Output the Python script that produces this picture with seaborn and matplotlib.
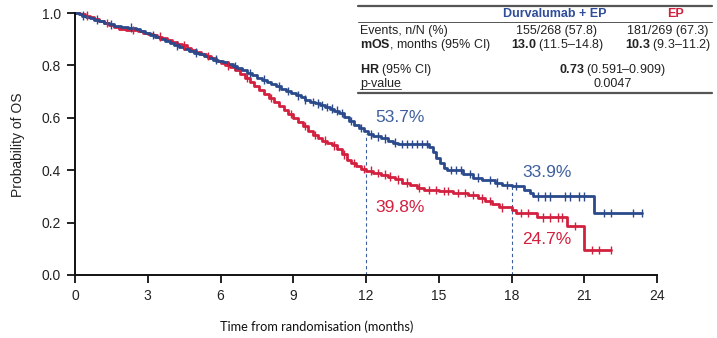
import numpy as np
import pandas as pd
import matplotlib
matplotlib.use("Agg")
import matplotlib.pyplot as plt
import seaborn as sns

# Kaplan-Meier step points (months, survival probability)
durva_t = [0, 0.15, 0.3, 0.45, 0.6, 0.8, 1.0, 1.2, 1.4, 1.6, 1.9, 2.2, 2.5, 2.7, 2.9, 3.1,
           3.3, 3.5, 3.7, 3.9, 4.1, 4.3, 4.5, 4.7, 4.9, 5.1, 5.3, 5.5, 5.7, 5.9, 6.1, 6.3,
           6.5, 6.7, 6.9, 7.1, 7.3, 7.5, 7.7, 7.9, 8.1, 8.3, 8.5, 8.7, 8.9, 9.1, 9.3, 9.5,
           9.7, 9.9, 10.1, 10.3, 10.5, 10.7, 10.9, 11.1, 11.3, 11.5, 11.7, 11.9, 12.1, 12.3,
           12.6, 12.9, 13.1, 13.3, 14.6, 14.75, 14.9, 15.05, 15.2, 15.35, 16.0, 16.4, 16.8,
           17.3, 17.6, 18.0, 18.5, 18.75, 18.9, 21.4, 23.4]
durva_s = [1.0, 0.996, 0.99, 0.985, 0.98, 0.975, 0.97, 0.963, 0.957, 0.952, 0.948, 0.944,
           0.938, 0.93, 0.923, 0.916, 0.908, 0.90, 0.893, 0.885, 0.877, 0.87, 0.863, 0.856,
           0.849, 0.843, 0.836, 0.829, 0.822, 0.817, 0.812, 0.806, 0.798, 0.79, 0.781, 0.771,
           0.762, 0.753, 0.746, 0.738, 0.73, 0.72, 0.71, 0.703, 0.695, 0.686, 0.678, 0.669,
           0.661, 0.655, 0.648, 0.641, 0.635, 0.627, 0.619, 0.604, 0.588, 0.574, 0.561, 0.548,
           0.537, 0.529, 0.522, 0.513, 0.505, 0.50, 0.488, 0.468, 0.447, 0.428, 0.41, 0.40,
           0.385, 0.372, 0.363, 0.352, 0.343, 0.339, 0.325, 0.312, 0.30, 0.237, 0.237]

ep_t = [0, 0.2, 0.4, 0.6, 0.8, 1.0, 1.2, 1.4, 1.6, 1.8, 2.1, 2.6, 2.8, 3.0, 3.2, 3.4, 3.6,
        3.8, 4.0, 4.2, 4.4, 4.6, 4.8, 5.0, 5.2, 5.4, 5.6, 5.8, 6.0, 6.2, 6.4, 6.6, 6.8, 7.0,
        7.2, 7.4, 7.6, 7.8, 8.0, 8.2, 8.4, 8.6, 8.8, 9.0, 9.2, 9.4, 9.6, 9.8, 10.0, 10.2,
        10.4, 10.6, 10.8, 11.0, 11.2, 11.4, 11.6, 11.8, 12.0, 12.3, 12.6, 12.9, 13.2, 13.5,
        13.8, 14.1, 14.4, 15.0, 15.6, 16.2, 16.6, 16.9, 17.2, 17.5, 18.0, 18.2, 19.05, 20.3,
        21.0, 22.1]
ep_s = [1.0, 0.995, 0.99, 0.985, 0.978, 0.97, 0.962, 0.955, 0.948, 0.94, 0.935, 0.93, 0.925,
        0.92, 0.915, 0.91, 0.903, 0.896, 0.889, 0.882, 0.876, 0.868, 0.86, 0.852, 0.844, 0.836,
        0.827, 0.818, 0.81, 0.80, 0.793, 0.782, 0.766, 0.752, 0.737, 0.72, 0.705, 0.69, 0.675,
        0.66, 0.645, 0.63, 0.615, 0.60, 0.585, 0.568, 0.55, 0.535, 0.523, 0.513, 0.505, 0.495,
        0.48, 0.46, 0.44, 0.427, 0.415, 0.405, 0.398, 0.39, 0.383, 0.375, 0.365, 0.353, 0.343,
        0.333, 0.325, 0.32, 0.313, 0.305, 0.293, 0.282, 0.27, 0.258, 0.247, 0.237, 0.22, 0.187,
        0.095, 0.095]

# Censoring times (months)
durva_cens = [0.35, 0.9, 1.5, 2.3, 3.2, 4.2, 5.0, 5.8, 6.6, 7.2, 7.8, 8.4, 8.8, 9.2, 9.5,
              9.8, 10.0, 10.2, 10.4, 10.6, 10.8, 11.0, 11.4, 11.8, 12.2, 12.5, 12.8, 13.2,
              13.5, 13.7, 13.9, 14.1, 14.3, 14.5, 15.5, 15.7, 15.9, 16.3, 16.6, 17.1, 17.4,
              17.8, 18.2, 19.1, 19.4, 19.6, 20.2, 20.4, 20.8, 21.0, 21.8, 22.1, 23.0, 23.4]
ep_cens = [0.5, 1.3, 2.4, 3.5, 4.5, 5.5, 6.3, 7.1, 8.1, 8.9, 9.5, 9.9, 10.3, 10.7, 11.1,
           11.5, 11.9, 12.2, 12.5, 12.8, 13.0, 13.3, 13.7, 14.2, 14.6, 14.9, 15.2, 15.4,
           15.8, 16.1, 16.4, 16.8, 17.1, 17.6, 18.4, 18.7, 19.3, 19.6, 19.9, 20.1, 20.6,
           21.3, 21.6, 22.1]

arms = ["Durvalumab + EP", "EP"]
palette = {"Durvalumab + EP": "#2a4a8c", "EP": "#d3203f"}

landmarks = [12, 18]
durva_pct = [53.7, 33.9]
ep_pct = [39.8, 24.7]

x_ticks = list(range(0, 25, 3))
y_ticks = [0.0, 0.2, 0.4, 0.6, 0.8, 1.0]


def step_value(times, surv, t):
    idx = np.searchsorted(times, t, side="right") - 1
    return surv[max(idx, 0)]


curves = pd.concat([
    pd.DataFrame({"time": ep_t, "surv": ep_s, "arm": arms[1]}),
    pd.DataFrame({"time": durva_t, "surv": durva_s, "arm": arms[0]}),
])
cens = pd.concat([
    pd.DataFrame({"time": ep_cens,
                  "surv": [step_value(ep_t, ep_s, t) for t in ep_cens],
                  "arm": arms[1]}),
    pd.DataFrame({"time": durva_cens,
                  "surv": [step_value(durva_t, durva_s, t) for t in durva_cens],
                  "arm": arms[0]}),
])

sns.set_theme(style="ticks")
plt.rcParams["font.family"] = ["Liberation Sans", "DejaVu Sans"]
plt.rcParams["mathtext.fontset"] = "custom"
plt.rcParams["mathtext.rm"] = "Liberation Sans"
plt.rcParams["mathtext.bf"] = "Liberation Sans:bold"

W, H = 717, 338
fig = plt.figure(figsize=(W / 100, H / 100), dpi=100)
ax = fig.add_axes([75 / W, (H - 275) / H, (657 - 75) / W, (275 - 13) / H])


def ftext(x, y, s, **kw):
    fig.text(x / W, 1 - y / H, s, **kw)


sns.lineplot(data=curves, x="time", y="surv", hue="arm", hue_order=[arms[1], arms[0]],
             palette=palette, drawstyle="steps-post", linewidth=2.0, legend=False,
             estimator=None, sort=False, ax=ax, clip_on=False)
sns.scatterplot(data=cens, x="time", y="surv", hue="arm", palette=palette, marker="|",
                s=38, linewidth=1.0, legend=False, ax=ax, clip_on=False, zorder=3)

# Landmark guides
for lm, dv in zip(landmarks, durva_pct):
    ax.plot([lm, lm], [0, dv / 100], linestyle=(0, (3, 2.5)), color="#3d5fa0",
            linewidth=0.8, zorder=1)

ax.text(12.4, 0.60, f"{durva_pct[0]}%", color="#3d5fa0", fontsize=12.5, va="center")
ax.text(12.4, 0.256, f"{ep_pct[0]}%", color="#d3203f", fontsize=12.5, va="center")
ax.text(18.45, 0.393, f"{durva_pct[1]}%", color="#3d5fa0", fontsize=12.5, va="center")
ax.text(18.45, 0.134, f"{ep_pct[1]}%", color="#d3203f", fontsize=12.5, va="center")

ax.set_xlim(0, 24)
ax.set_ylim(0, 1)
ax.set_xticks(x_ticks)
ax.set_yticks(y_ticks)
ax.set_yticklabels([f"{v:.1f}" for v in y_ticks])
ax.tick_params(axis="both", length=6, width=1.3, labelsize=10, color="#111111",
               labelcolor="#222222", pad=4)
for side in ("top", "right"):
    ax.spines[side].set_visible(False)
for side in ("left", "bottom"):
    ax.spines[side].set_linewidth(1.4)
    ax.spines[side].set_color("#111111")
ax.set_xlabel("")
ax.set_ylabel("")

ftext(18, 145, "Probability of OS", rotation=90, fontsize=10, ha="center", va="center",
      color="#222222")
ftext(317, 327, "Time from randomisation (months)", fontsize=9.2, ha="center", va="center",
      color="#111111", family=["Lato", "DejaVu Sans"])

# Summary table
line_kw = dict(transform=fig.transFigure, color="#555555")
fig.add_artist(plt.Line2D([358 / W, 712 / W], [1 - 6 / H, 1 - 6 / H], linewidth=1.6, **line_kw))
fig.add_artist(plt.Line2D([358 / W, 712 / W], [1 - 21.5 / H, 1 - 21.5 / H], linewidth=0.7, **line_kw))
fig.add_artist(plt.Line2D([358 / W, 712 / W], [1 - 93 / H, 1 - 93 / H], linewidth=1.6, **line_kw))
fig.add_artist(plt.Line2D([360 / W, 401 / W], [1 - 89 / H, 1 - 89 / H], linewidth=0.7, **line_kw))

tfs = 9
ftext(555, 14, "Durvalumab + EP", color="#2f4d9a", fontweight="bold", fontsize=tfs,
      ha="center", va="center")
ftext(676, 14, "EP", color="#d3203f", fontweight="bold", fontsize=tfs, ha="center",
      va="center")

ftext(360, 31, "Events, n/N (%)", fontsize=tfs, va="center", color="#222222")
ftext(557, 31, "155/268 (57.8)", fontsize=tfs, ha="center", va="center", color="#222222")
ftext(668, 31, "181/269 (67.3)", fontsize=tfs, ha="center", va="center", color="#222222")

ftext(360, 45, r"$\mathbf{mOS}$, months (95% CI)", fontsize=tfs, va="center",
      color="#222222")
ftext(557, 45, r"$\mathbf{13.0}$ (11.5–14.8)", fontsize=tfs, ha="center", va="center",
      color="#222222")
ftext(668, 45, r"$\mathbf{10.3}$ (9.3–11.2)", fontsize=tfs, ha="center", va="center",
      color="#222222")

ftext(360, 70, r"$\mathbf{HR}$ (95% CI)", fontsize=tfs, va="center", color="#222222")
ftext(612, 70, r"$\mathbf{0.73}$ (0.591–0.909)", fontsize=tfs, ha="center", va="center",
      color="#222222")
ftext(360, 84, "p-value", fontsize=tfs, va="center", color="#222222")
ftext(613, 84, "0.0047", fontsize=tfs, ha="center", va="center", color="#222222")

fig.savefig("out.png", dpi=100)
